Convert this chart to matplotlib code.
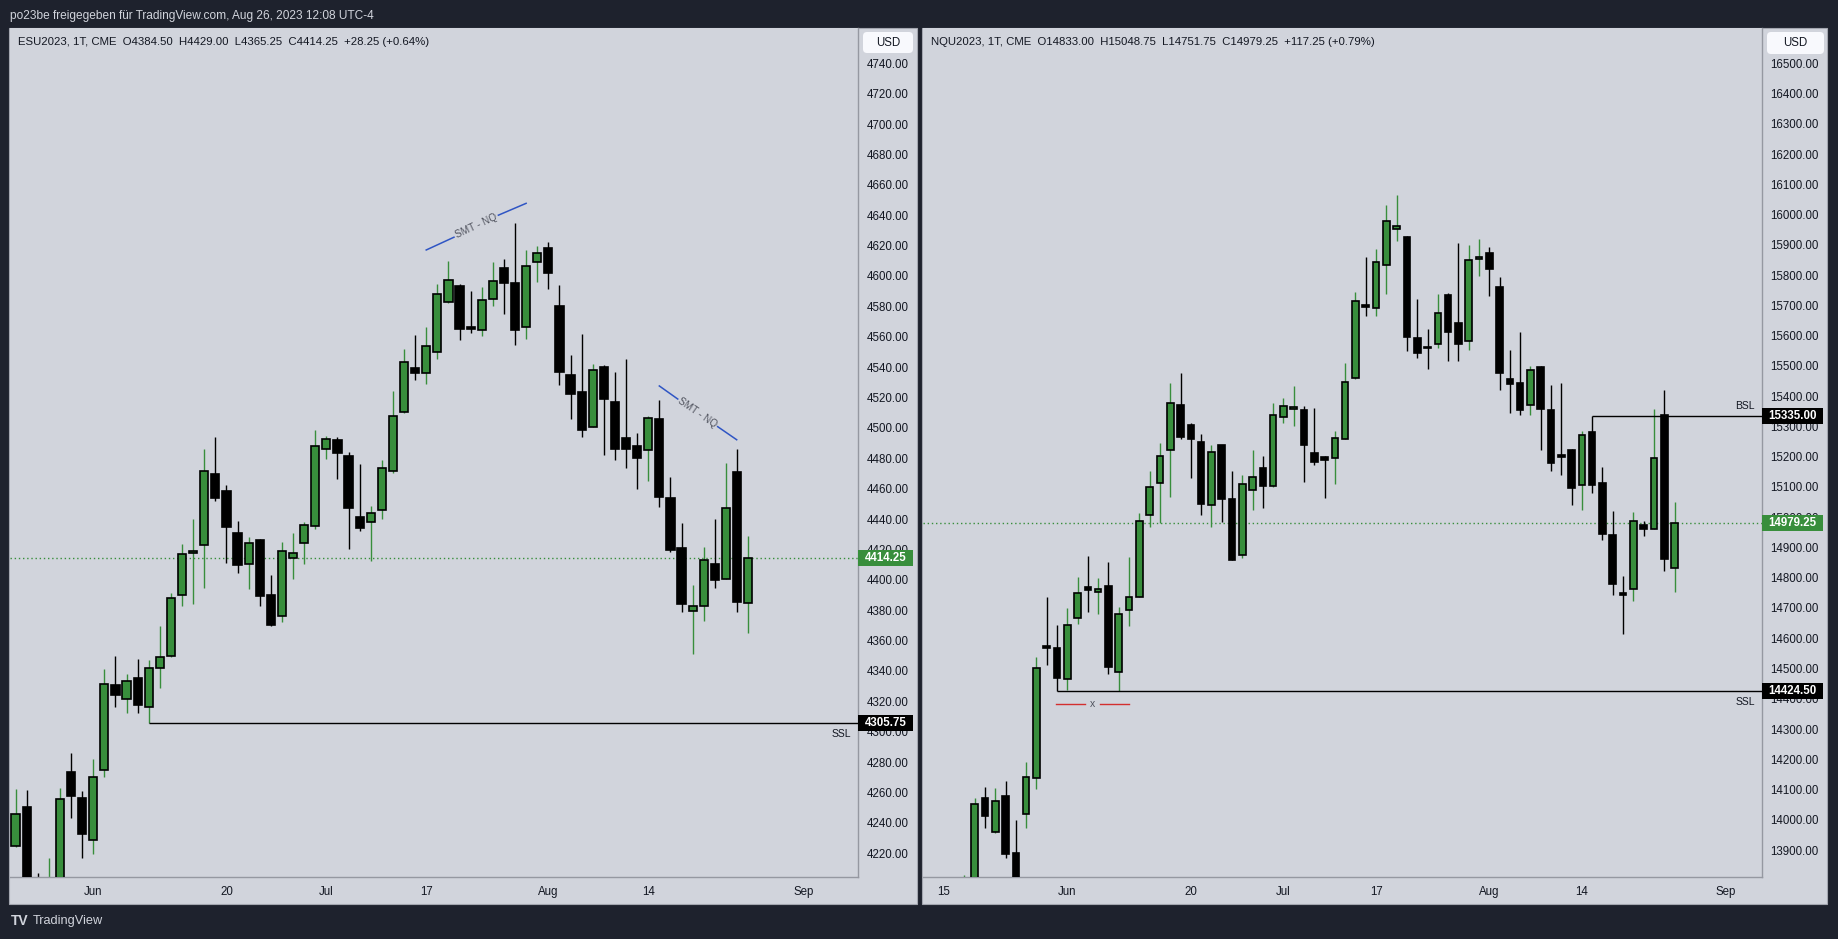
import matplotlib
matplotlib.use('Agg')
import matplotlib.pyplot as plt
import matplotlib.transforms as mtransforms
from matplotlib.patches import Rectangle, FancyBboxPatch
import numpy as np
import pandas as pd

plt.rcParams['font.family'] = ['Liberation Sans', 'DejaVu Sans']

W, H = 1838, 939
BG_DARK = '#1e222d'
BG_PANEL = '#d1d4dc'
GREEN = '#388e3c'
TEXT = '#131722'
AXIS_LINE = '#9598a1'
BLUE = '#2f55c4'
RED = '#d32f2f'

# ---------------- calendar (trading days) ----------------
holidays = ['2023-05-29', '2023-06-19', '2023-07-04']
cal = [d.strftime('%Y-%m-%d') for d in pd.bdate_range('2023-05-15', '2023-09-01')
       if d.strftime('%Y-%m-%d') not in holidays]
pos = {d: i for i, d in enumerate(cal)}

# ---------------- ESU2023 daily ----------------
es_open = [4224.9, 4250.6, 4198.0, 4190.0, 4200.0, 4273.8, 4256.1, 4228.9, 4274.9, 4331.1,
           4321.6, 4335.6, 4316.3, 4341.9, 4349.8, 4390.0, 4417.4, 4422.7, 4469.4, 4458.6,
           4430.9, 4410.3, 4426.4, 4390.2, 4376.3, 4414.25, 4424.0, 4435.4, 4486.1, 4491.9,
           4481.8, 4441.2, 4438.0, 4445.9, 4471.5, 4510.6, 4539.6, 4536.0, 4550.2, 4582.8,
           4593.3, 4566.3, 4564.3, 4584.8, 4605.4, 4595.5, 4566.3, 4609.1, 4618.3, 4580.4,
           4534.9, 4523.8, 4500.5, 4540.2, 4517.2, 4493.5, 4488.2, 4485.3, 4506.0, 4454.0,
           4421.1, 4379.4, 4382.7, 4410.3, 4400.6, 4470.9, 4384.50]
es_high = [4262.5, 4261.9, 4206.8, 4216.8, 4263.2, 4285.7, 4260.9, 4282.2, 4341.6, 4349.6,
           4338.2, 4348.2, 4346.9, 4369.9, 4391.5, 4423.8, 4440.1, 4486.1, 4494.0, 4462.6,
           4438.8, 4428.0, 4426.9, 4403.4, 4424.8, 4430.9, 4438.0, 4498.7, 4494.8, 4494.0,
           4484.2, 4476.3, 4448.6, 4478.9, 4524.6, 4551.8, 4561.0, 4566.3, 4594.6, 4610.0,
           4594.6, 4590.2, 4592.9, 4609.3, 4611.3, 4635.0, 4617.2, 4619.9, 4622.5, 4594.2,
           4548.1, 4561.5, 4542.2, 4541.5, 4536.9, 4545.5, 4496.8, 4508.0, 4518.5, 4467.8,
           4437.5, 4396.7, 4421.5, 4440.1, 4477.0, 4486.2, 4429.00]
es_low = [4224.2, 4190.0, 4178.0, 4180.0, 4197.0, 4243.2, 4217.0, 4219.7, 4270.1, 4316.6,
          4312.1, 4312.6, 4305.75, 4328.5, 4349.5, 4382.6, 4384.4, 4394.5, 4451.7, 4411.3,
          4404.2, 4393.7, 4382.6, 4369.4, 4372.0, 4400.3, 4410.3, 4433.5, 4479.7, 4466.5,
          4420.1, 4432.2, 4412.1, 4439.9, 4470.5, 4510.1, 4531.7, 4528.6, 4545.5, 4582.5,
          4558.0, 4562.2, 4560.8, 4579.9, 4574.7, 4554.3, 4558.6, 4595.7, 4591.6, 4528.4,
          4506.0, 4494.1, 4500.3, 4482.3, 4479.0, 4473.9, 4459.5, 4465.2, 4447.6, 4418.0,
          4378.7, 4351.0, 4373.2, 4394.9, 4400.3, 4379.1, 4365.25]
es_close = [4246.1, 4196.0, 4185.0, 4203.0, 4255.9, 4257.7, 4232.9, 4270.4, 4331.6, 4324.0,
            4333.5, 4317.6, 4342.2, 4349.3, 4387.9, 4416.9, 4419.0, 4471.5, 4453.6, 4434.6,
            4409.5, 4424.0, 4389.2, 4370.2, 4419.0, 4417.4, 4435.9, 4488.4, 4492.4, 4483.7,
            4447.0, 4433.8, 4444.3, 4473.4, 4507.7, 4543.6, 4536.2, 4553.7, 4587.8, 4597.3,
            4565.4, 4564.8, 4584.1, 4596.6, 4595.1, 4564.1, 4606.5, 4615.0, 4601.7, 4537.1,
            4522.0, 4498.3, 4538.2, 4518.7, 4485.8, 4485.8, 4480.5, 4506.4, 4454.2, 4419.9,
            4384.4, 4382.7, 4412.9, 4399.8, 4447.2, 4385.7, 4414.25]
es_start = '2023-05-22'
es_dates = cal[pos[es_start]: pos[es_start] + len(es_open)]

# ---------------- NQU2023 daily ----------------
nq_open = [13700.0, 13780.0, 14071.9, 13958.3, 14077.8, 13890.5, 14020.3, 14138.3, 14573.5, 14569.1,
           14465.8, 14667.9, 14769.8, 14752.0, 14774.2, 14489.4, 14693.1, 14735.8, 15007.3, 15112.0,
           15221.2, 15370.2, 15303.8, 15247.8, 15039.7, 15237.4, 15058.9, 14874.5, 15089.9, 15162.2,
           15104.6, 15330.4, 15356.9, 15354.0, 15212.3, 15200.5, 15194.6, 15259.5, 15458.7, 15702.2,
           15690.3, 15833.4, 15952.9, 15926.4, 15593.0, 15562.0, 15572.3, 15733.1, 15641.7, 15581.2,
           15852.6, 15871.8, 15759.7, 15455.8, 15442.5, 15370.2, 15497.1, 15354.0, 15205.0, 15221.2,
           15106.1, 15281.7, 15112.0, 14940.9, 14749.1, 14763.9, 14974.8, 14961.5, 15337.7, 14833.00]
nq_high = [13816.0, 14071.9, 14108.8, 14104.4, 14129.5, 13999.6, 14191.4, 14539.6, 14737.3, 14644.4,
           14700.4, 14803.7, 14873.0, 14799.3, 14852.4, 14704.8, 14868.6, 15014.7, 15153.3, 15246.3,
           15444.0, 15477.9, 15311.2, 15274.3, 15237.4, 15240.0, 15151.9, 15140.1, 15222.7, 15203.5,
           15377.6, 15395.3, 15435.1, 15367.3, 15359.9, 15203.0, 15284.6, 15510.4, 15743.5, 15861.5,
           15886.5, 16031.1, 16063.6, 15930.8, 15721.3, 15621.0, 15739.0, 15742.0, 15907.2, 15898.4,
           15920.5, 15893.9, 15795.1, 15553.1, 15613.6, 15498.6, 15500.0, 15436.6, 15444.0, 15224.0,
           15286.1, 15335.0, 15166.6, 15022.0, 14805.2, 15016.1, 14986.6, 15356.9, 15421.8, 15048.75]
nq_low = [13650.0, 13770.0, 13973.1, 13957.0, 13872.8, 13770.0, 13971.6, 14101.4, 14513.0, 14424.5,
          14430.0, 14645.8, 14687.1, 14681.2, 14482.1, 14426.0, 14639.9, 14735.0, 14967.4, 14979.3,
          15067.8, 15259.5, 15129.7, 15005.8, 14966.0, 14983.7, 14857.0, 14864.2, 15025.0, 15030.9,
          15100.2, 15312.7, 15300.9, 15115.0, 15174.0, 15064.8, 15110.6, 15258.0, 15457.0, 15665.3,
          15665.3, 15736.1, 15913.1, 15550.2, 15526.6, 15488.2, 15557.6, 15517.7, 15514.8, 15551.7,
          15796.6, 15731.7, 15418.9, 15345.1, 15339.2, 15337.7, 15221.2, 15151.9, 15138.6, 15041.2,
          15025.0, 15079.6, 14923.2, 14743.2, 14613.4, 14724.0, 14936.4, 14960.0, 14821.4, 14751.75]
nq_close = [13760.0, 14052.8, 14011.4, 14063.1, 13886.1, 13790.0, 14141.3, 14501.2, 14566.2, 14470.2,
            14644.4, 14750.6, 14760.9, 14763.9, 14504.2, 14681.2, 14735.8, 14986.6, 15098.8, 15202.0,
            15376.1, 15264.0, 15258.1, 15042.7, 15215.3, 15058.9, 14858.3, 15110.6, 15132.7, 15101.7,
            15337.7, 15367.3, 15362.8, 15237.4, 15181.4, 15188.7, 15261.0, 15446.9, 15713.9, 15696.3,
            15842.3, 15978.0, 15963.3, 15594.5, 15541.4, 15557.6, 15674.1, 15610.7, 15570.8, 15849.7,
            15860.0, 15818.7, 15475.0, 15439.5, 15354.0, 15485.3, 15356.9, 15178.4, 15200.5, 15097.3,
            15271.4, 15106.1, 14943.8, 14778.6, 14743.2, 14986.6, 14961.5, 15194.6, 14861.2, 14979.25]
nq_start = '2023-05-17'
nq_dates = cal[pos[nq_start]: pos[nq_start] + len(nq_open)]

# ---------------- axis labels / levels ----------------
es_yticks = list(range(4220, 4741, 20))
nq_yticks = list(range(13900, 16501, 100))
es_tick_dates = ['2023-06-01', '2023-06-20', '2023-07-03', '2023-07-17', '2023-08-01', '2023-08-14', '2023-09-01']
es_tick_labels = ['Jun', '20', 'Jul', '17', 'Aug', '14', 'Sep']
nq_tick_dates = ['2023-05-15'] + es_tick_dates
nq_tick_labels = ['15'] + es_tick_labels

es_ssl = 4305.75
es_ssl_from = '2023-06-08'
nq_ssl = 14424.50
nq_ssl_from = '2023-05-31'
nq_bsl = 15335.00
nq_bsl_from = '2023-08-15'

es_header = 'ESU2023, 1T, CME  O4384.50  H4429.00  L4365.25  C4414.25  +28.25 (+0.64%)'
nq_header = 'NQU2023, 1T, CME  O14833.00  H15048.75  L14751.75  C14979.25  +117.25 (+0.79%)'
top_text = 'po23be freigegeben für TradingView.com, Aug 26, 2023 12:08 UTC-4'

# ---------------- figure ----------------
fig = plt.figure(figsize=(W / 100, H / 100), dpi=100)
fig.patch.set_facecolor(BG_DARK)
PX = fig.dpi_scale_trans


def px_rect(x0, y0, x1, y1):
    return [x0 / W, 1 - y1 / H, (x1 - x0) / W, (y1 - y0) / H]


def panel(x0, y0, x1, y1):
    r = Rectangle((x0 / 100, (H - y1) / 100), (x1 - x0) / 100, (y1 - y0) / 100,
                  transform=PX, facecolor=BG_PANEL, edgecolor='#a3a6af', lw=0.8, zorder=-5)
    fig.add_artist(r)


def usd_box(x0, y0, x1, y1):
    b = FancyBboxPatch((x0 / 100, (H - y1) / 100), (x1 - x0) / 100, (y1 - y0) / 100,
                       boxstyle='round,pad=0,rounding_size=0.04', transform=PX,
                       facecolor='#f8f9fd', edgecolor='none', zorder=5)
    fig.add_artist(b)
    fig.text((x0 + x1) / 2 / W, 1 - (y0 + y1) / 2 / H, 'USD', ha='center', va='center',
             fontsize=8.3, color=TEXT, zorder=6)


panel(9, 28, 917, 904)
panel(922, 28, 1827, 904)

ax1 = fig.add_axes(px_rect(10, 28, 858, 877))
ax2 = fig.add_axes(px_rect(923, 28, 1762, 877))


def setup(ax, xlim, ylim, yticks, tdates, tlabels):
    ax.set_facecolor(BG_PANEL)
    ax.set_xlim(*xlim)
    ax.set_ylim(*ylim)
    for s in ['top', 'left']:
        ax.spines[s].set_visible(False)
    for s in ['right', 'bottom']:
        ax.spines[s].set_color(AXIS_LINE)
        ax.spines[s].set_linewidth(1.0)
    ax.yaxis.tick_right()
    ax.set_yticks(yticks)
    ax.set_yticklabels([f'{v:.2f}' for v in yticks])
    ax.tick_params(axis='y', length=0, pad=6, labelsize=8.3, labelcolor=TEXT)
    ax.set_xticks([pos[d] for d in tdates])
    ax.set_xticklabels(tlabels)
    ax.tick_params(axis='x', length=0, pad=6.5, labelsize=8.3, labelcolor=TEXT)


def candles(ax, dates, o, h, l, c, width):
    x = np.array([pos[d] for d in dates], dtype=float)
    o, h, l, c = (np.asarray(v, dtype=float) for v in (o, h, l, c))
    up = c >= o
    ax.vlines(x[up], l[up], h[up], color=GREEN, lw=1.0, zorder=2)
    ax.vlines(x[~up], l[~up], h[~up], color='black', lw=1.0, zorder=2)
    bottom = np.minimum(o, c)
    height = np.abs(c - o)
    ax.bar(x[up], height[up], width, bottom[up], color=GREEN, edgecolor='black', lw=1.2, zorder=3)
    ax.bar(x[~up], height[~up], width, bottom[~up], color='black', edgecolor='black', lw=1.2, zorder=3)


def price_tag(ax, price, text, color, box_px):
    trans = mtransforms.blended_transform_factory(ax.transAxes, ax.transData)
    ylo, yhi = ax.get_ylim()
    hd = 16 * (yhi - ylo) / ax.bbox.height
    wa = box_px / ax.bbox.width
    ax.add_patch(Rectangle((1.0, price - hd / 2), wa, hd, transform=trans, facecolor=color,
                           edgecolor='none', clip_on=False, zorder=10))
    ax.text(1.0 + wa / 2, price, text, transform=trans, ha='center', va='center', color='white',
            fontsize=8.3, fontweight='bold', clip_on=False, zorder=11)


def level(ax, price, start, label, above):
    x_end = ax.get_xlim()[1]
    ax.hlines(price, pos[start], x_end, color='black', lw=1.0, zorder=4)
    trans = mtransforms.blended_transform_factory(ax.transAxes, ax.transData)
    ax.annotate(label, xy=(1.0, price), xycoords=trans, xytext=(-7, 10 if above else -11),
                textcoords='offset pixels', ha='right', va='center', fontsize=7.5, color=TEXT)


# ----- left: ES -----
setup(ax1, (4.5, 80.9), (4204.4, 4763.2), es_yticks, es_tick_dates, es_tick_labels)
ax1.axhline(es_close[-1], color=GREEN, lw=1.0, ls=(0, (1, 2)), zorder=1)
candles(ax1, es_dates, es_open, es_high, es_low, es_close, 0.74)
level(ax1, es_ssl, es_ssl_from, 'SSL', above=False)

# SMT annotations
smt1_a = [(42.0, 4617.1), (44.5, 4625.5)]
smt1_b = [(48.5, 4640.0), (51.0, 4647.8)]
smt1_t = (46.5, 4632.7)
smt2_a = [(63.0, 4527.6), (64.66, 4519.0)]
smt2_b = [(68.26, 4500.8), (69.97, 4492.2)]
smt2_t = (66.46, 4510.0)
for seg in (smt1_a, smt1_b, smt2_a, smt2_b):
    ax1.plot([seg[0][0], seg[1][0]], [seg[0][1], seg[1][1]], color=BLUE, lw=1.1, zorder=5)
ax1.text(*smt1_t, 'SMT - NQ', rotation=25, rotation_mode='anchor', ha='center', va='center',
         fontsize=7.2, color='#50535e', zorder=5)
ax1.text(*smt2_t, 'SMT - NQ', rotation=-34.6, rotation_mode='anchor', ha='center', va='center',
         fontsize=7.2, color='#50535e', zorder=5)

price_tag(ax1, es_close[-1], f'{es_close[-1]:.2f}', GREEN, 55)
price_tag(ax1, es_ssl, f'{es_ssl:.2f}', 'black', 55)

# ----- right: NQ -----
setup(ax2, (-2.02, 79.5), (13811.0, 16616.7), nq_yticks, nq_tick_dates, nq_tick_labels)
ax2.axhline(nq_close[-1], color=GREEN, lw=1.0, ls=(0, (1, 2)), zorder=1)
candles(ax2, nq_dates, nq_open, nq_high, nq_low, nq_close, 0.64)
level(ax2, nq_bsl, nq_bsl_from, 'BSL', above=True)
level(ax2, nq_ssl, nq_ssl_from, 'SSL', above=False)

x_mark_y = 14381.8
ax2.plot([10.87, 13.74], [x_mark_y, x_mark_y], color=RED, lw=1.0, zorder=5)
ax2.plot([15.15, 18.0], [x_mark_y, x_mark_y], color=RED, lw=1.0, zorder=5)
ax2.text(14.47, x_mark_y, 'x', ha='center', va='center', fontsize=7.5, color='#50535e', zorder=5)

price_tag(ax2, nq_bsl, f'{nq_bsl:.2f}', 'black', 61)
price_tag(ax2, nq_close[-1], f'{nq_close[-1]:.2f}', GREEN, 61)
price_tag(ax2, nq_ssl, f'{nq_ssl:.2f}', 'black', 61)

# ----- texts / decorations -----
fig.text(10 / W, 1 - 16 / H, top_text, ha='left', va='center', fontsize=8.6, color='#d1d4dc')
fig.text(18 / W, 1 - 42 / H, es_header, ha='left', va='center', fontsize=8.2, color=TEXT)
fig.text(931 / W, 1 - 42 / H, nq_header, ha='left', va='center', fontsize=8.2, color=TEXT)
usd_box(863, 32, 913, 53)
usd_box(1767, 32, 1824, 54)

fig.text(11 / W, 1 - 921 / H, 'TV', ha='left', va='center', fontsize=10, fontweight='heavy',
         color='#d1d4dc')
fig.text(33 / W, 1 - 921 / H, 'TradingView', ha='left', va='center', fontsize=9.2, color='#d1d4dc')

fig.savefig('out.png', dpi=100, facecolor=BG_DARK)
